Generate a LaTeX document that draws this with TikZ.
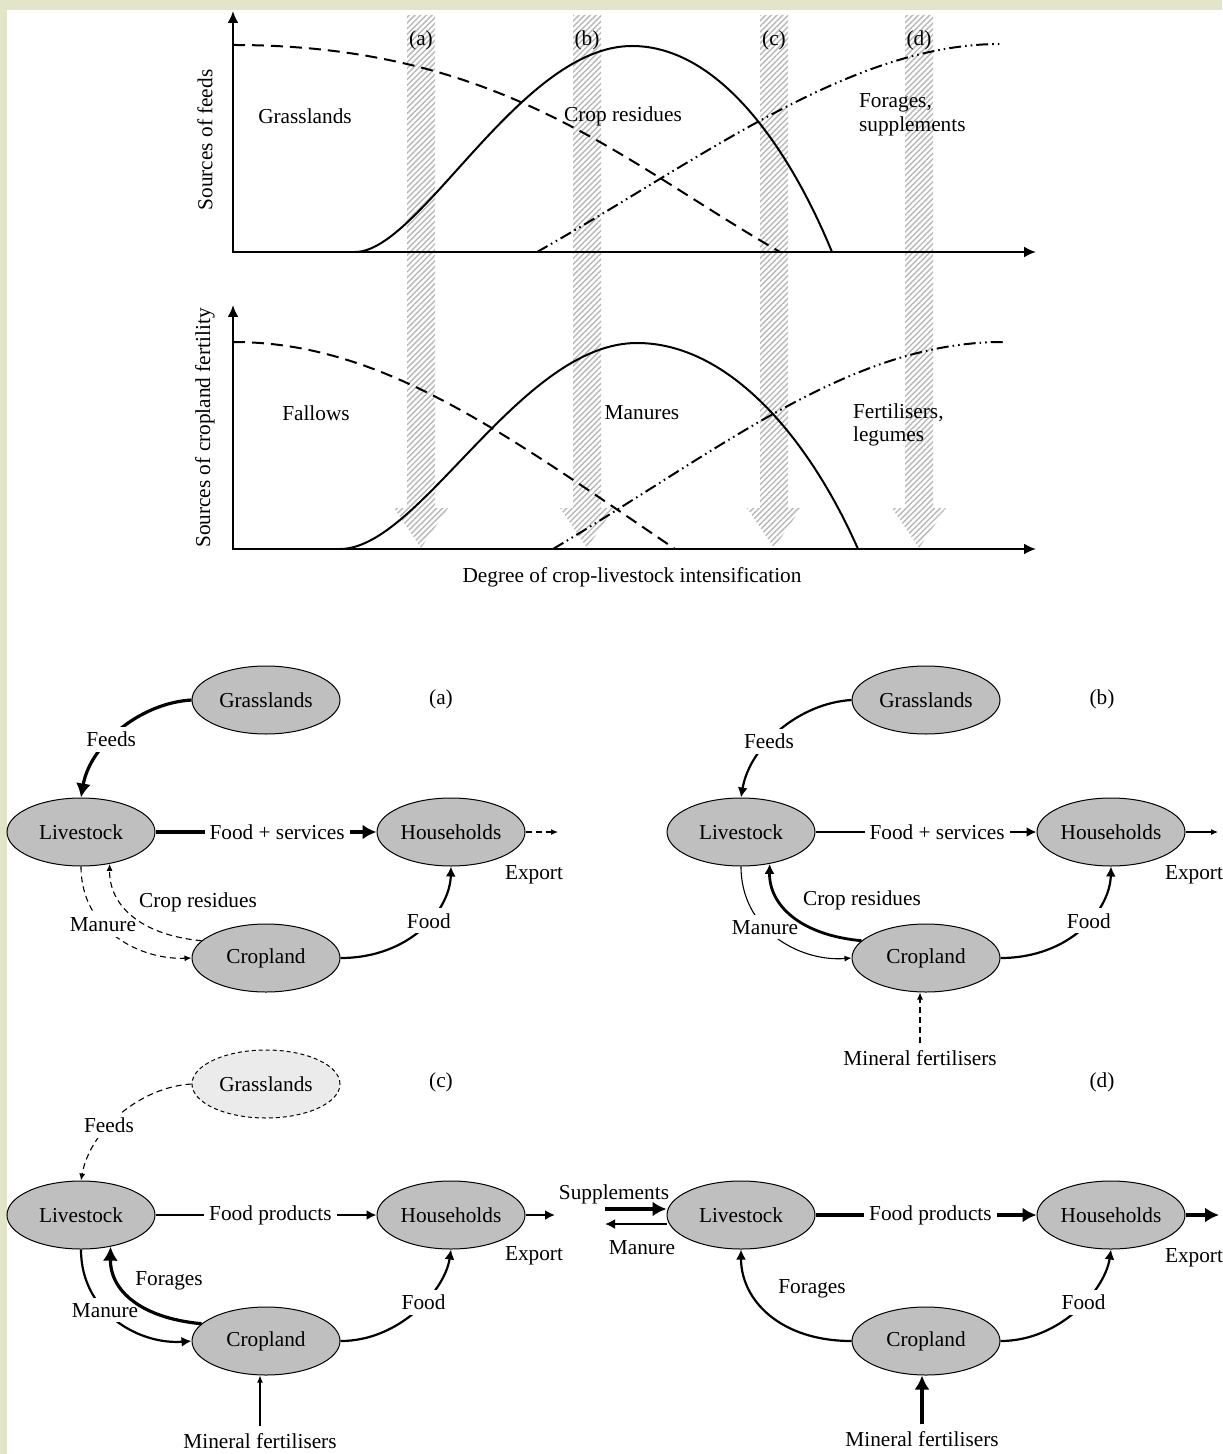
\documentclass[tikz,border=0pt]{standalone}
\usepackage{fontspec}
\setmainfont{Liberation Serif}
\usetikzlibrary{arrows.meta,shapes.geometric,patterns.meta}
\definecolor{bgcream}{RGB}{226,229,199}

\begin{document}
\begin{tikzpicture}[
  x=0.5pt,y=-0.5pt,
  font=\fontsize{10.65}{11.8}\selectfont,
  >=Latex,
  axis/.style={line width=1.1pt,{Latex[length=6pt,width=5.5pt]}-{Latex[length=6pt,width=5.5pt]}},
  curve/.style={line width=1pt},
  dashcurve/.style={curve,dash pattern=on 6pt off 3.5pt},
  dotcurve/.style={curve,dash pattern=on 6pt off 2pt on .8pt off 2pt on .8pt off 2pt},
  band/.style={pattern={Lines[angle=45,distance=2pt,line width=.7pt]},pattern color=black!28},
  pool/.style={ellipse,draw,line width=.5pt,fill=black!25,minimum width=74pt,minimum height=34pt,inner sep=0pt},
  faded/.style={pool,dash pattern=on 2pt off 1.5pt,fill=black!8},
  tag/.style={fill=white,inner sep=2.5pt},
  thinflow/.style={line width=.55pt,-{Latex[length=3.5pt,width=3pt]}},
  midflow/.style={line width=1.1pt,-{Latex[length=5pt,width=5pt]}},
  bigflow/.style={line width=1.6pt,-{Latex[length=7pt,width=7.5pt]}},
  dashflow/.style={thinflow,dash pattern=on 3pt off 2pt}
]
  \useasboundingbox (0,0) rectangle (1222,1454);
  \fill[bgcream] (0,0) rectangle (1222,1454);
  \fill[white] (7,10) rectangle (1222,1454);

  % intensification stages
  \foreach \bx/\bn in {421/a,587/b,774/c,919/d}{
    \fill[band] (\bx-14,15) -- (\bx+14,15) -- (\bx+14,508) -- (\bx+27,508) -- (\bx,548) -- (\bx-27,508) -- (\bx-14,508) -- cycle;
    \node (stage\bn) at (\bx,40) {(\bn)};
  }

  % feeds
  \coordinate (ytop1) at (233,11);
  \coordinate (xend1) at (1036,252);
  \draw[axis] (ytop1) |- (xend1);
  \draw[dashcurve] (233,45) .. controls (500,45) and (620,160) .. (780,252);
  \draw[curve] (355,252) .. controls (420,252) and (520,46) .. (632,46) .. controls (720,46) and (790,150) .. (832,252);
  \draw[dotcurve] (537,252) .. controls (700,160) and (850,44) .. (1000,44);
  \node (grs) at (305,116) {Grasslands};
  \node (crr) at (623,116) {Crop residues};
  \node[align=left,anchor=west] (fsp) at (852,115) {Forages,\\supplements};
  \node[rotate=90] (ylab1) at (205,140) {Sources of feeds};

  % fertility
  \coordinate (ytop2) at (233,305);
  \coordinate (xend2) at (1036,549);
  \draw[axis] (ytop2) |- (xend2);
  \draw[dashcurve] (233,342) .. controls (380,342) and (500,430) .. (675,549);
  \draw[curve] (340,549) .. controls (420,549) and (520,343) .. (637,343) .. controls (730,343) and (810,440) .. (858,549);
  \draw[dotcurve] (553,549) .. controls (720,450) and (850,342) .. (1003,342);
  \node (fal) at (316,413) {Fallows};
  \node (mns) at (642,413) {Manures};
  \node[align=left,anchor=west] (fle) at (846,425) {Fertilisers,\\legumes};
  \node[rotate=90] (ylab2) at (205,428) {Sources of cropland fertility};
  \node (xlab) at (632,577) {Degree of crop-livestock intensification};

  % (a)
  \node[pool] (grA) at (266,700) {Grasslands};
  \node[pool] (livA) at (81,832) {Livestock};
  \node[pool] (hhA) at (451,832) {Households};
  \node[pool] (crA) at (266,958) {Cropland};
  \node (labA) at (441,699) {(a)};
  \draw[bigflow] (grA.west) .. controls (140,703) and (90,745) .. node[tag,pos=.58] (fdA) {Feeds} (livA.north);
  \draw[bigflow] (livA) -- node[tag,pos=.55] (fsA) {Food + services} (hhA);
  \coordinate (exA) at (558,832);
  \draw[dashflow] (hhA.east) -- (exA);
  \node (exlA) at (534,875) {Export};
  \draw[dashflow] (livA.south) .. controls (81,930) and (140,960) .. node[tag,pos=.38] (mnA) {Manure} (crA.west);
  \draw[dashflow] (crA.165) .. controls (140,935) and (109,905) .. (livA.-48);
  \node (crlA) at (198,902) {Crop residues};
  \draw[midflow] (crA.east) .. controls (410,958) and (450,910) .. node[tag,pos=.57] (fA) {Food} (hhA.south);

  % (b)
  \node[pool] (grB) at (926,700) {Grasslands};
  \node[pool] (livB) at (741,832) {Livestock};
  \node[pool] (hhB) at (1111,832) {Households};
  \node[pool] (crB) at (926,958) {Cropland};
  \node (labB) at (1102,699) {(b)};
  \draw[midflow] (grB.west) .. controls (800,703) and (750,745) .. node[tag,pos=.6] (fdB) {Feeds} (livB.north);
  \draw[midflow] (livB) -- node[tag,pos=.55] (fsB) {Food + services} (hhB);
  \coordinate (exB) at (1218,832);
  \draw[thinflow] (hhB.east) -- (exB);
  \node (exlB) at (1194,875) {Export};
  \draw[thinflow] (livB.south) .. controls (741,930) and (800,962) .. node[tag,pos=.4] (mnB) {Manure} (crB.west);
  \draw[midflow,line width=1.4pt] (crB.165) .. controls (800,935) and (769,905) .. (livB.-48);
  \node (crlB) at (862,900) {Crop residues};
  \draw[midflow] (crB.east) .. controls (1070,958) and (1110,910) .. node[tag,pos=.57] (fB) {Food} (hhB.south);
  \node (mfB) at (920,1058) {Mineral fertilisers};
  \draw[dashflow] (mfB) -- (mfB |- crB.south);

  % (c)
  \node[faded] (grC) at (266,1084) {Grasslands};
  \node[pool] (livC) at (81,1215) {Livestock};
  \node[pool] (hhC) at (451,1215) {Households};
  \node[pool] (crC) at (266,1341) {Cropland};
  \node (labC) at (441,1082) {(c)};
  \draw[dashflow] (grC.west) .. controls (140,1087) and (90,1130) .. node[tag,pos=.6] (fdC) {Feeds} (livC.north);
  \draw[midflow] (livC) -- node[tag,pos=.52] (fpC) {Food products} (hhC);
  \coordinate (exC) at (555,1215);
  \draw[midflow] (hhC.east) -- (exC);
  \node (exlC) at (534,1256) {Export};
  \draw[midflow] (livC.south) .. controls (81,1313) and (140,1345) .. node[tag,pos=.4] (mnC) {Manure} (crC.west);
  \draw[bigflow] (crC.165) .. controls (140,1318) and (110,1290) .. (livC.-47);
  \node (foC) at (169,1281) {Forages};
  \draw[midflow] (crC.east) .. controls (400,1341) and (445,1290) .. node[tag,pos=.57] (fC) {Food} (hhC.south);
  \node (mfC) at (260,1441) {Mineral fertilisers};
  \draw[thinflow] (mfC) -- (mfC |- crC.south);

  % (d)
  \node[pool] (livD) at (741,1215) {Livestock};
  \node[pool] (hhD) at (1111,1215) {Households};
  \node[pool] (crD) at (926,1341) {Cropland};
  \node (labD) at (1102,1082) {(d)};
  \coordinate (spD) at (605,1209);
  \coordinate (mnD) at (605,1224);
  \draw[bigflow] (spD) -- (spD -| livD.west);
  \draw[midflow] (mnD -| livD.west) -- (mnD);
  \node (slD) at (614,1194) {Supplements};
  \node (mlD) at (642,1248) {Manure};
  \draw[bigflow] (livD) -- node[tag,pos=.52] (fpD) {Food products} (hhD);
  \coordinate (exD) at (1219,1215);
  \draw[bigflow] (hhD.east) -- (exD);
  \node (exlD) at (1194,1258) {Export};
  \draw[midflow] (crD.west) .. controls (780,1341) and (741,1300) .. (livD.south);
  \node (foD) at (812,1289) {Forages};
  \draw[midflow] (crD.east) .. controls (1060,1341) and (1105,1290) .. node[tag,pos=.57] (fD) {Food} (hhD.south);
  \node (mfD) at (922,1439) {Mineral fertilisers};
  \draw[bigflow] (mfD) -- (mfD |- crD.south);

\end{tikzpicture}
\end{document}
